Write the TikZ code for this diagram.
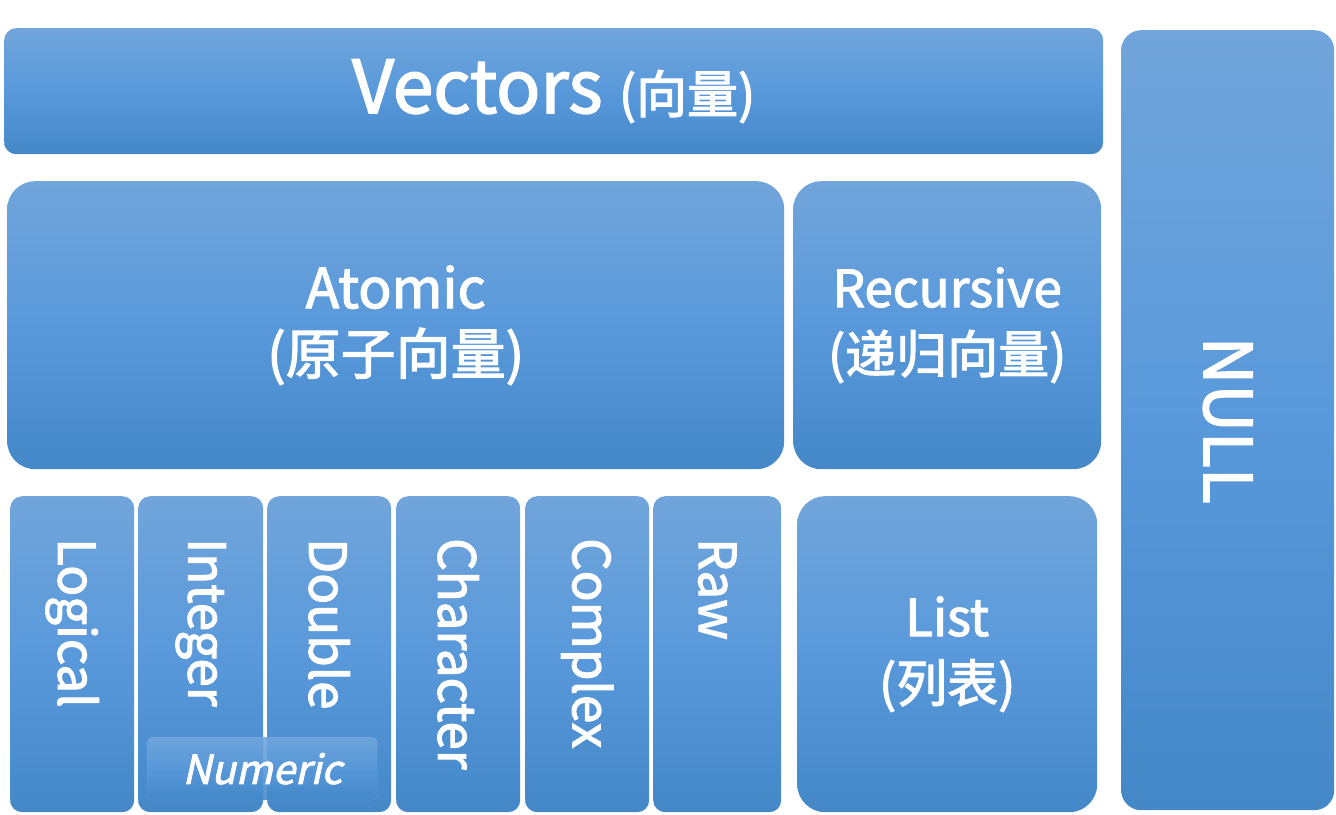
\documentclass[tikz,border=0pt]{standalone}
\usepackage{fontspec}
\setmainfont{Noto Sans CJK SC}[FakeBold=2.2, AutoFakeSlant=0.22]
\usepackage{tikz}
\usetikzlibrary{positioning}
\definecolor{topc}{HTML}{71A5DB}
\definecolor{midc}{HTML}{5999DB}
\definecolor{botc}{HTML}{4488C8}

\begin{document}
\begin{tikzpicture}[x=1pt, y=-1pt,
    blk/.style={rounded corners=12pt, top color=topc, bottom color=botc,
                middle color=midc, anchor=north west, inner sep=0pt,
                text=white, align=center},
    big/.style={blk, rounded corners=28pt},
    vtxt/.style={text=white, rotate=-90, anchor=west, inner sep=0pt,
                 font=\fontsize{51}{60}\selectfont}]
    \useasboundingbox (0,0) rectangle (1336,814);
    % top row
    \node[blk, minimum width=1099pt, minimum height=126pt] (vec) at (4,28)
        {\fontsize{73}{80}\selectfont Vectors {\fontsize{51}{60}\selectfont(向量)}};
    \node[blk, rounded corners=20pt, minimum width=213pt, minimum height=780pt] (null) at (1121,30) {};
    \node[text=white, rotate=-90, inner sep=0pt, font=\fontsize{66}{70}\selectfont] (nullT) at (null.center) {NULL};
    % middle row
    \node[big, minimum width=777pt, minimum height=288pt,
          font=\fontsize{55}{66}\selectfont] (atom) at (7,181) {Atomic\\(原子向量)};
    \node[big, minimum width=308pt, minimum height=288pt,
          font=\fontsize{51}{66}\selectfont] (rec) at (793,181) {Recursive\\(递归向量)};
    % bottom row
    \node[blk, minimum width=124pt, minimum height=316pt] (lgc) at (10,496) {};
    \node[blk, minimum width=125pt, minimum height=316pt] (int) at (138,496) {};
    \node[blk, minimum width=124pt, minimum height=316pt] (dbl) at (267,496) {};
    \node[blk, minimum width=124pt, minimum height=316pt] (chr) at (396,496) {};
    \node[blk, minimum width=124pt, minimum height=316pt] (cpx) at (525,496) {};
    \node[blk, minimum width=128pt, minimum height=316pt] (raw) at (653,496) {};
    \node[big, minimum width=300pt, minimum height=316pt,
          font=\fontsize{51}{66}\selectfont] (lst) at (797,496) {List\\(列表)};
    \node[vtxt] (lgcT) at ([yshift=-42pt]lgc.north) {Logical};
    \node[vtxt] (intT) at ([yshift=-42pt]int.north) {Integer};
    \node[vtxt] (dblT) at ([yshift=-42pt]dbl.north) {Double};
    \node[vtxt] (chrT) at ([yshift=-42pt]chr.north) {Character};
    \node[vtxt] (cpxT) at ([yshift=-42pt]cpx.north) {Complex};
    \node[vtxt] (rawT) at ([yshift=-42pt]raw.north) {Raw};
    % numeric overlay
    \node[blk, rounded corners=6pt, minimum width=230pt, minimum height=63pt,
          draw=white, draw opacity=0.15, fill opacity=0.9, text opacity=1,
          font=\fontsize{40}{45}\selectfont\itshape] (num) at (147,737) {Numeric};
\end{tikzpicture}
\end{document}
